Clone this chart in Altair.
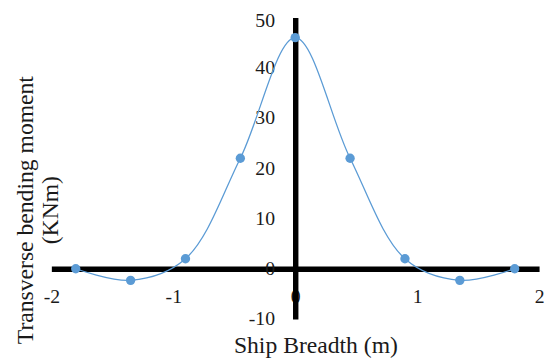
import altair as alt
import pandas as pd

breadth = [-1.8, -1.35, -0.9, -0.45, 0.0, 0.45, 0.9, 1.35, 1.8]
moment = [0.0, -2.3, 2.0, 22.0, 46.0, 22.0, 2.0, -2.3, 0.0]
x_ticks = [-2, -1, 0, 1, 2]
y_ticks = [-10, 0, 10, 20, 30, 40, 50]

df = pd.DataFrame({"x": breadth, "y": moment})

FONT = "Liberation Serif"
BLUE = "#5B9BD5"
TXT = "#1a1a1a"

xscale = alt.Scale(domain=[-2, 2], nice=False, zero=False)
yscale = alt.Scale(domain=[-10, 50], nice=False, zero=False)

xaxis = alt.Axis(
    values=x_ticks, offset=-51, ticks=False, tickSize=0, grid=False,
    domainColor="black", domainWidth=5.5, labelPadding=18,
    labelExpr="'' + datum.value", labelFlush=False, labelOverlap=False,
    labelFont=FONT, labelFontSize=20, labelColor=TXT,
    title="Ship Breadth (m)", titleFont=FONT, titleFontSize=24,
    titleFontWeight="normal", titleColor=TXT,
    titleX=268, titleY=78, titleAlign="center", titleBaseline="middle",
    titleAnchor="middle",
)
yaxis = alt.Axis(
    values=y_ticks, offset=-247.5, ticks=False, tickSize=0, grid=False,
    domainColor="black", domainWidth=5.5, labelPadding=21,
    labelExpr="'' + datum.value", labelFlush=False, labelOverlap=False,
    labelOffset={"condition": {"test": "datum.value == 50", "value": 3}, "value": 0},
    labelFont=FONT, labelFontSize=20, labelColor=TXT,
    title=["Transverse bending moment", "(KNm)"], titleFont=FONT,
    titleFontSize=24, titleFontWeight="normal", titleColor=TXT,
    titleAngle=270, titleX=-267, titleY=195, titleAlign="center",
    titleBaseline="alphabetic", titleLineHeight=26, titleAnchor="middle",
)

base = alt.Chart(df)
line = base.mark_line(color=BLUE, strokeWidth=1.3, interpolate="catmull-rom").encode(
    x=alt.X("x:Q", scale=xscale, axis=xaxis),
    y=alt.Y("y:Q", scale=yscale, axis=yaxis),
)
pts = base.mark_point(filled=True, color=BLUE, size=90, opacity=1).encode(
    x=alt.X("x:Q", scale=xscale),
    y=alt.Y("y:Q", scale=yscale),
)

chart = (line + pts).properties(
    width=495, height=306,
    autosize=alt.AutoSizeParams(type="none"),
    padding={"left": 44, "top": 7, "right": 6, "bottom": 43},
).configure_view(stroke=None)

chart.save("out.html", embed_options={"renderer": "svg", "actions": False})
